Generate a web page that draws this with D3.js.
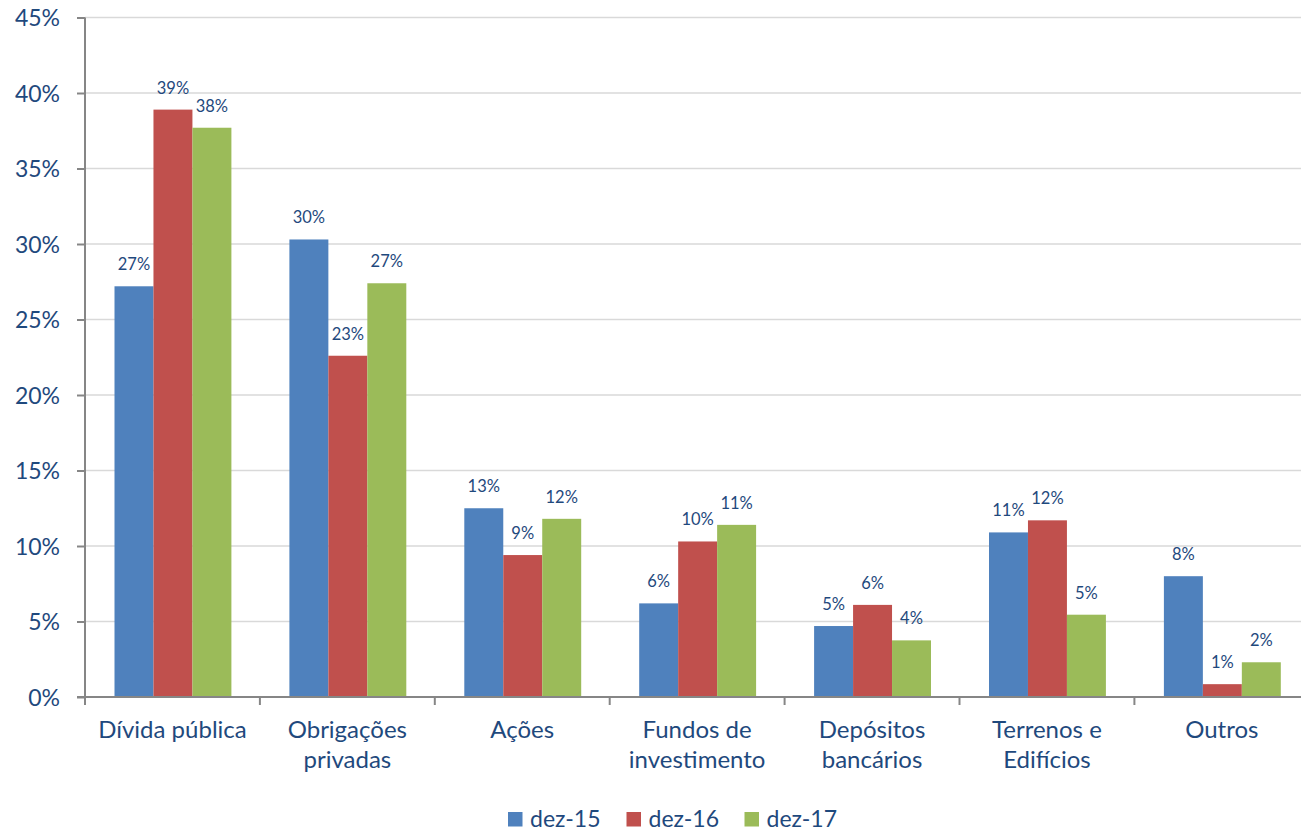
<!DOCTYPE html>
<html>
<head>
<meta charset="utf-8">
<script src="https://cdn.jsdelivr.net/npm/d3@7"></script>
<style>
  body { margin: 0; background: #fff; }
  text { font-family: Lato, "Open Sans", sans-serif; fill: #1F497D; }
</style>
</head>
<body>
<svg id="chart" width="1301" height="832"></svg>
<script>
// categories (line-broken as in the original)
var categories = [
  ["Dívida pública"],
  ["Obrigações", "privadas"],
  ["Ações"],
  ["Fundos de", "investimento"],
  ["Depósitos", "bancários"],
  ["Terrenos e", "Edifícios"],
  ["Outros"]
];
var seriesNames = ["dez-15", "dez-16", "dez-17"];
var dez15 = [27.2, 30.3, 12.5, 6.2, 4.7, 10.9, 8.0];
var dez16 = [38.9, 22.6, 9.4, 10.3, 6.1, 11.7, 0.85];
var dez17 = [37.7, 27.4, 11.8, 11.4, 3.75, 5.45, 2.3];
var yTicks = [0, 5, 10, 15, 20, 25, 30, 35, 40, 45];

var colors = ["#4F81BD", "#C0504D", "#9BBB59"];
var series = [dez15, dez16, dez17];

var svg = d3.select("#chart");
var left = 85, plotTop = 17.5, bottom = 697, band = 174.9;

var x = d3.scaleBand()
  .domain(d3.range(categories.length))
  .range([left, left + band * categories.length]);
var xs = d3.scaleBand()
  .domain(d3.range(series.length))
  .range([29.5, band - 28.5]);
var y = d3.scaleLinear().domain([0, 45]).range([bottom, plotTop]);

// gridlines
svg.append("g").selectAll("line")
  .data(yTicks.filter(d => d > 0))
  .enter().append("line")
  .attr("x1", left).attr("x2", 1301)
  .attr("y1", d => y(d)).attr("y2", d => y(d))
  .attr("stroke", "#D9D9D9").attr("stroke-width", 1.5);

// bars
var groups = svg.append("g").selectAll("g")
  .data(categories)
  .enter().append("g")
  .attr("transform", (d, i) => "translate(" + x(i) + ",0)");

groups.each(function (c, i) {
  var g = d3.select(this);
  series.forEach(function (s, j) {
    g.append("rect")
      .attr("x", xs(j))
      .attr("width", xs.bandwidth())
      .attr("y", y(s[i]))
      .attr("height", bottom - y(s[i]))
      .attr("fill", colors[j]);
    g.append("text")
      .attr("x", xs(j) + xs.bandwidth() / 2)
      .attr("y", y(s[i]) - 16)
      .attr("text-anchor", "middle")
      .style("font-size", "16.5px")
      .text(Math.round(s[i]) + "%");
  });
});

// y axis
var yAxis = d3.axisLeft(y).tickValues(yTicks).tickSize(8).tickFormat(d => d + "%");
var gy = svg.append("g").attr("transform", "translate(" + left + ",0)").call(yAxis);
gy.select(".domain").attr("stroke", "#868686").attr("stroke-width", 2).attr("d", "M0," + plotTop + "V" + bottom);
gy.selectAll(".tick line").attr("stroke", "#868686").attr("stroke-width", 2);
gy.selectAll(".tick text")
  .attr("x", -25)
  .attr("dy", "0.36em")
  .style("font-size", "23px")
  .style("font-family", "Lato, sans-serif")
  .attr("fill", "#1F497D");

// x axis
var gx = svg.append("g").attr("transform", "translate(0," + bottom + ")");
gx.append("line").attr("x1", left - 8).attr("x2", 1301)
  .attr("stroke", "#868686").attr("stroke-width", 2);
gx.selectAll(".xt")
  .data(d3.range(categories.length))
  .enter().append("line")
  .attr("class", "xt")
  .attr("x1", d => x(d)).attr("x2", d => x(d))
  .attr("y1", 0).attr("y2", 8)
  .attr("stroke", "#868686").attr("stroke-width", 2);

gx.selectAll(".xl")
  .data(categories)
  .enter().append("text")
  .attr("class", "xl")
  .attr("text-anchor", "middle")
  .style("font-size", "24px")
  .each(function (lines, i) {
    var t = d3.select(this);
    lines.forEach(function (ln, k) {
      t.append("tspan")
        .attr("x", x(i) + band / 2)
        .attr("y", 41 + k * 30)
        .text(ln);
    });
  });

// legend
var legX = [508, 626.5, 744.5];
var leg = svg.append("g").selectAll("g")
  .data(seriesNames)
  .enter().append("g")
  .attr("transform", (d, i) => "translate(" + legX[i] + ",812)");
leg.append("rect").attr("width", 14.5).attr("height", 14.5).attr("fill", (d, i) => colors[i]);
leg.append("text").attr("x", 22).attr("y", 15).style("font-size", "23px").text(d => d);
</script>
</body>
</html>
